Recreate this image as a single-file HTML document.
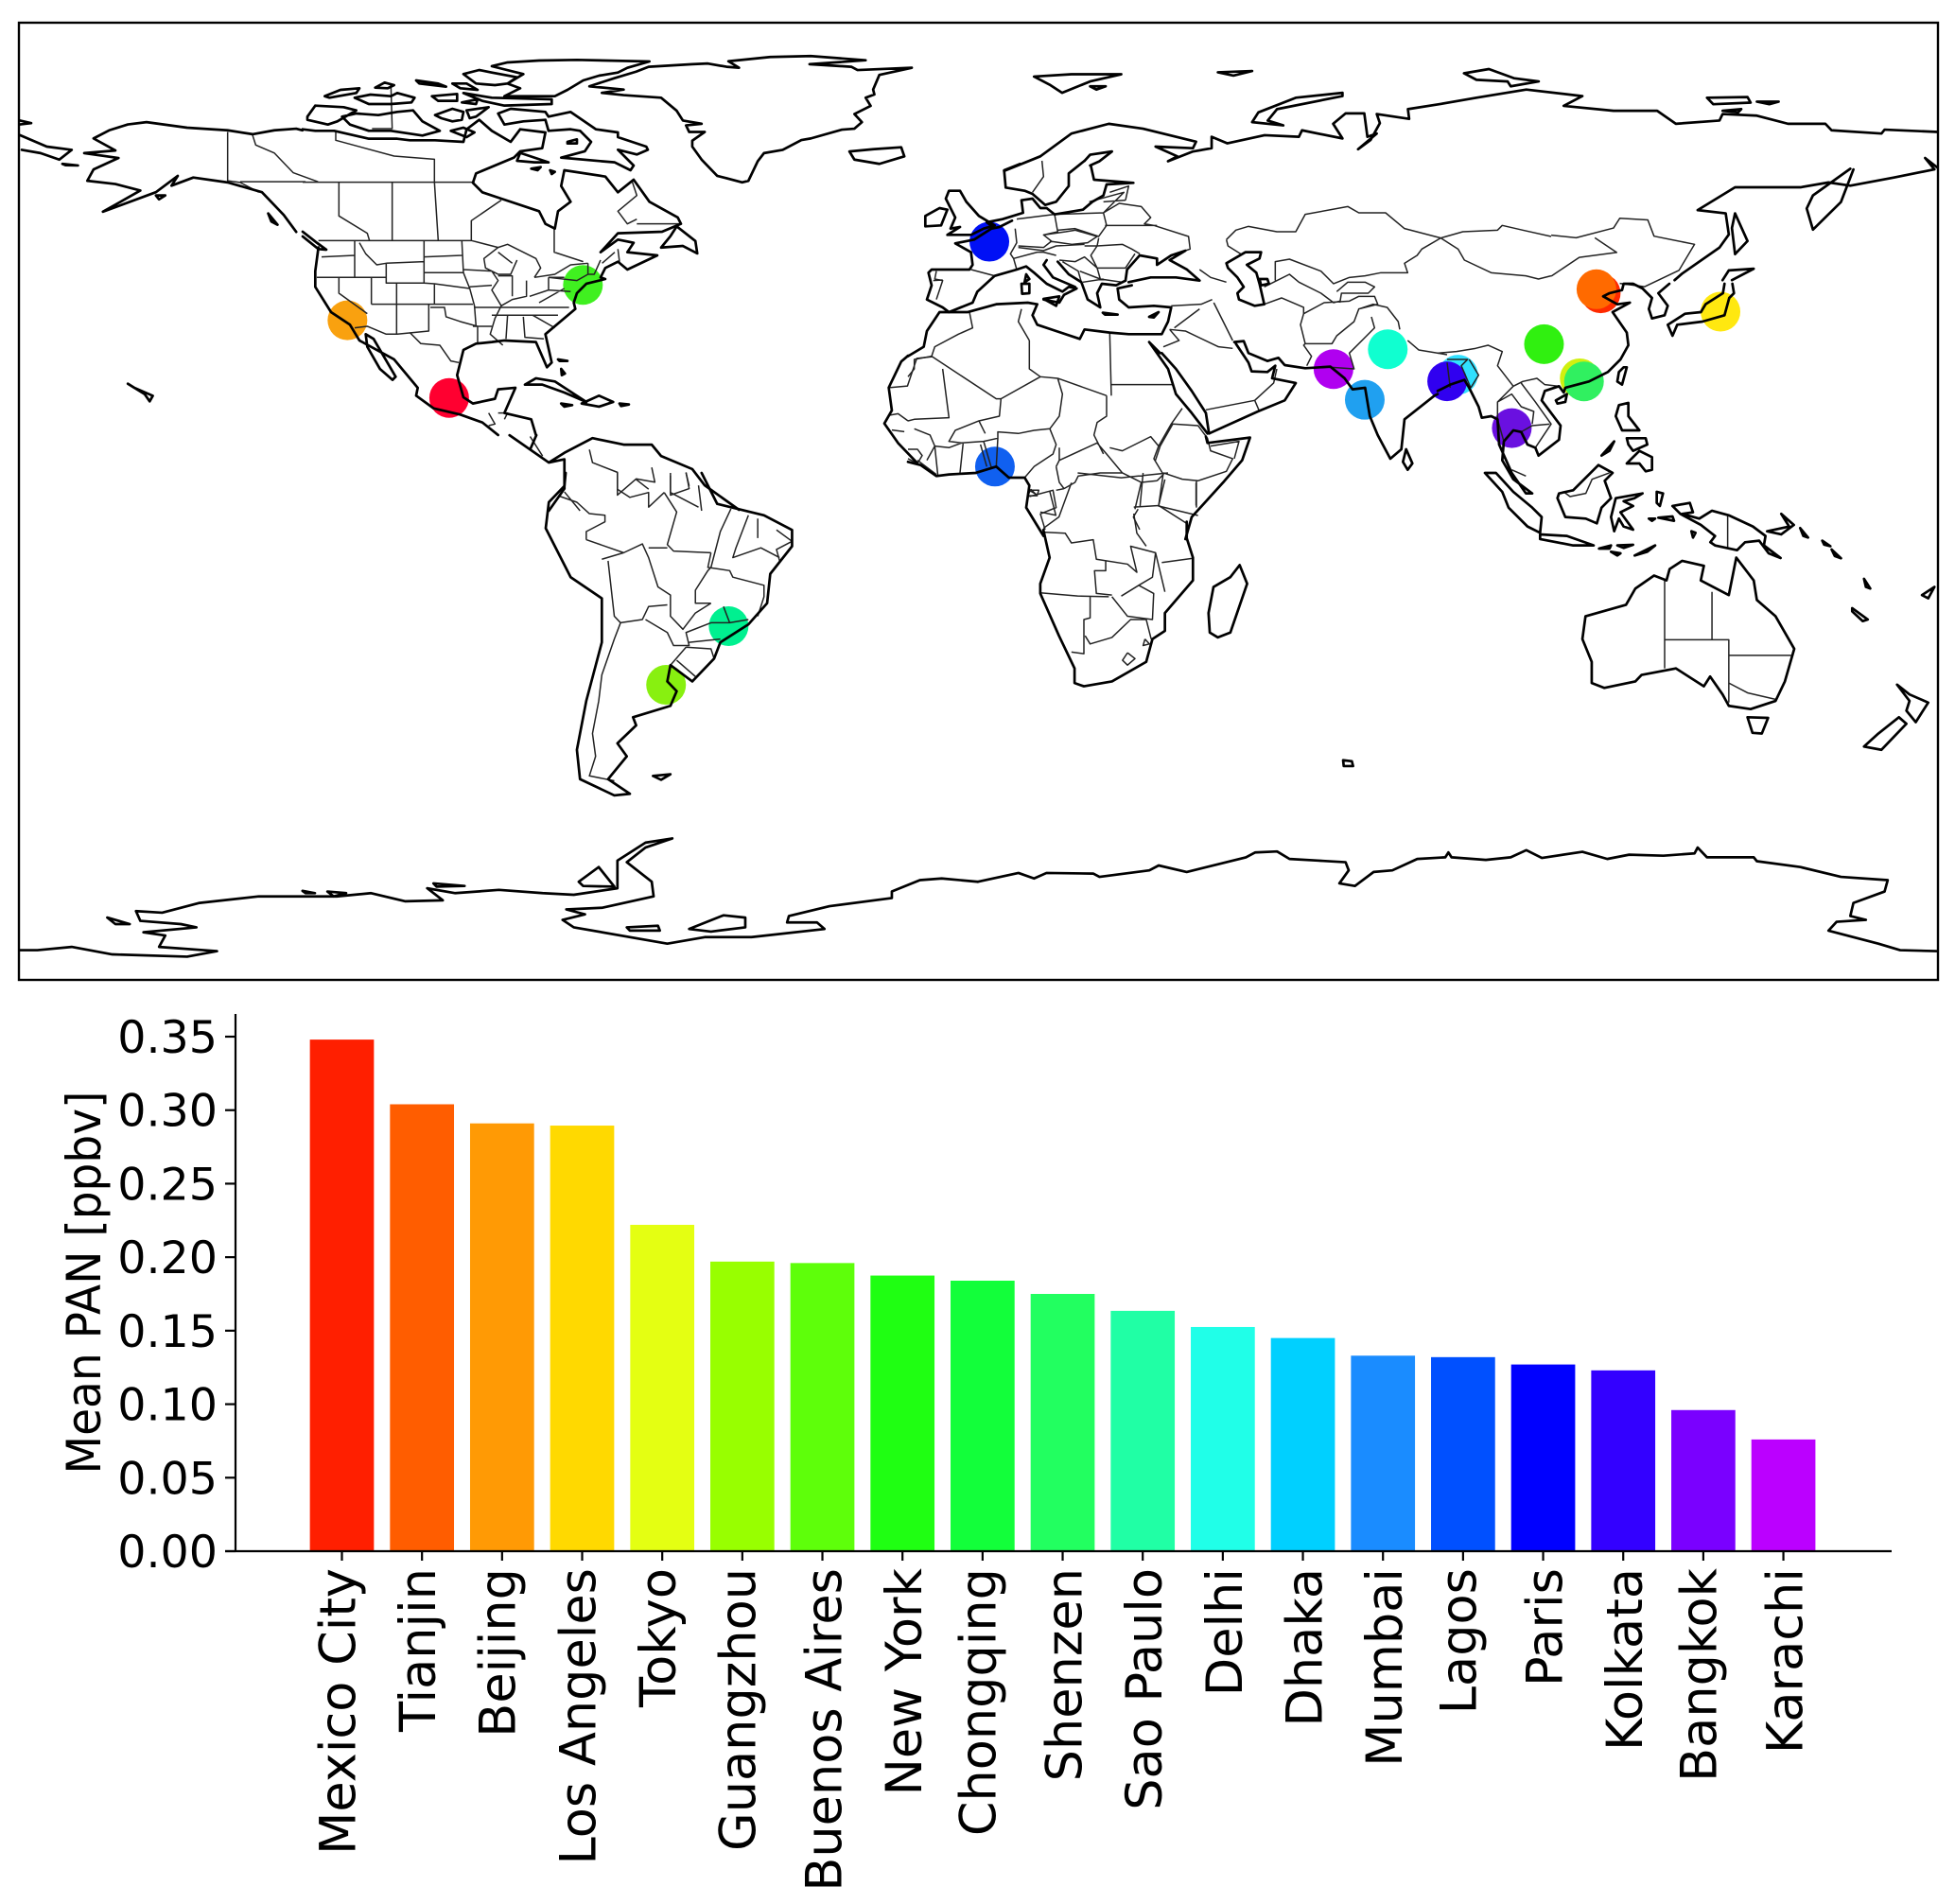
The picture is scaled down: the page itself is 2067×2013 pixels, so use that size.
<!DOCTYPE html>
<html lang="en">
<head>
<meta charset="utf-8">
<title>Mean PAN by megacity</title>
<style>
html,body{margin:0;padding:0;background:#fff}
svg{display:block}
text{font-family:"DejaVu Sans","Liberation Sans",sans-serif;fill:#000}
.c path{fill:none;stroke:#000;stroke-width:2.7;stroke-linejoin:round;stroke-linecap:round;vector-effect:non-scaling-stroke}
.b path{fill:none;stroke:#222;stroke-width:1.5;stroke-linejoin:round;vector-effect:non-scaling-stroke}
</style>
</head>
<body>
<svg id="fig" xmlns="http://www.w3.org/2000/svg" width="2067" height="2013" viewBox="0 0 2067 2013">
<rect width="2067" height="2013" fill="#fff"/>
<g id="markers"></g>

<g class="b">
<g transform="translate(0,0) scale(.6594,.3444)">
<path d="M365,405L365,555 385,560 415,590M405,415L410,445 440,470 470,530 510,558M385,558L490,558M850,1340L870,1400M945,1380L950,1420 990,1450 990,1520 1020,1470 1050,1480 1045,1435M1075,1460L1075,1520 1105,1500 1100,1450M905,1510L930,1568M1120,1490L1125,1568"/>
<path d="M1425,1190L1455,1185 1470,1100 1495,1095M1456,1292L1440,1270 1425,1275M1430,1320L1450,1325"/>
</g>
<g transform="translate(320,60) scale(.3333)">
<path d="M105,240L105,265 290,315 418,325 418,398M0,398L545,398M115,400L115,505 205,560 212,583M284,398L284,583M418,398L430,583M630,455L535,520 535,583M798,545L798,620 890,650M280,90L284,228 220,228M1045,395L1060,440 1000,490 1030,530 1060,515M1060,530L1200,530"/>
<path d="M50,583L535,583 620,605 650,595 740,640 755,670 735,700M620,605L575,640 580,670 620,690 660,690 680,645M620,620L665,655M735,700L800,690 850,660 905,655M165,583L165,700M60,635L165,630M45,700L265,700M180,590L200,625 235,660 265,655M265,655L385,650M265,655L265,718 385,718 385,585M385,635L505,630M385,685L510,685M115,700L115,750 205,815M218,700L218,785M298,718L298,880M218,785L418,785M418,720L418,785 540,785M385,718L418,720 530,735M400,785L400,870 300,880 265,880 205,855 165,860M405,795L450,795 455,825 500,840 555,855 555,910M505,585L510,685 530,735 545,790 550,855M510,675L600,680M530,730L600,725M600,680L620,710 600,740 630,790 610,830 595,880 635,915M620,695L665,695 665,760M710,710L710,760 665,770 630,790M545,795L845,795M600,820L810,820M650,820L645,895M700,825L705,890 765,895M780,700L780,740 720,760M780,700L830,700M750,780L830,735M780,740L850,745M540,855L600,855M730,820L800,860M905,655L905,690 925,690 945,645M905,690L870,710 780,700M950,655L990,620M1000,610L1005,650"/>
<path d="M340,875L375,910 435,915 470,965 495,970M590,1130L610,1165 590,1170M620,1130L650,1130 640,1150"/>
</g>
<g transform="translate(960,170) scale(.3333)">
<path d="M340,215L345,260 325,295 335,310 345,345M200,345L275,365M345,185L465,170 475,225 430,235 455,255 430,275 350,270M465,170L620,165 630,205 605,240 530,215 475,220M575,130L685,100 620,165M620,165L670,135 740,145 770,180 750,200 780,205 890,240 895,280 880,285M625,205L790,205M605,245L600,270 680,265 710,280 735,295M430,235L500,225 530,220 600,240 570,260 520,265 450,255M350,275L430,285 470,270 560,265M335,310L410,290 430,290 470,300M560,270L600,270 580,300 600,340 690,340 720,295M600,340L610,375 680,385M480,315L530,320 560,305 600,340M490,320L540,350 550,385M545,350L610,375M555,385L620,375M425,0L430,50 395,100M640,100L700,80 690,125M620,130L690,125M90,350L85,375 110,380 90,440M80,380L110,378"/>
<path d="M925,345L960,370 1010,385M835,460L930,455 965,440M970,450L1000,510 1030,570M830,535L880,540 985,590 1030,595M845,530L925,470M810,590L860,570 830,535M945,790L1100,760 1160,705 1170,660M1100,760L1115,795"/>
<path d="M195,480L205,530 160,550 85,590 75,620M75,620L20,630 20,660 0,685M75,620L280,755 295,755 420,685M420,685L475,690M360,470L350,510 385,570M385,570L385,660 420,685M640,545L645,745M475,690L630,745M630,745L630,810 600,830 590,870 620,930M645,710L840,710M475,690L490,740 480,810 450,850M295,755L290,810 225,825 245,865M110,660L130,815 20,820 0,825M450,850L400,855 350,865 285,860 285,880 280,970M230,900L250,970M240,890L265,975M225,825L150,855 130,890 170,895 240,890 285,880M175,895L165,990M85,905L95,1000M85,905L130,910 170,895M20,850L70,870 85,905 60,950M30,950L90,995M0,915L30,915 45,935 30,960 0,945M450,850L470,900 460,930 400,970 370,1005M480,910L480,950 470,970M480,950L600,895 630,930 680,990M470,970L480,1020 495,1040M495,1040L530,1020 540,1000 610,990 680,990 740,1020 790,1015M640,910L680,920 770,875 795,905 780,945 810,995 790,1015M795,905L835,835 870,785M785,950L800,905 840,835 920,840 950,880 960,920 1030,945 1010,985 920,1015 870,1010 810,990M960,905L1050,890 1035,945M915,1015L915,1100M810,990L795,1095 920,1125M740,1020L720,1105M730,1105L715,1130 735,1170M385,1045L410,1060 415,1045 380,1045M385,1065L460,1045 470,1100 420,1120 435,1170M495,1040L470,1045"/>
</g>
<g transform="translate(1240,200) scale(.3333)">
<path d="M170,160L200,130 240,118 330,135 390,135 420,80 555,55 590,75 675,75 735,125 850,155 920,135 1030,130 1045,115 1110,130 1200,150M850,155L905,190 925,225 1010,265 1120,275 1160,285 1200,275M170,160L175,180 215,205M325,290L325,230 370,222 470,260 510,300 560,280 610,275 660,265 745,265 735,235 775,210 790,190 850,155M290,310L370,270 400,295 470,330 510,360 530,355M520,325L555,295 610,295 640,310 620,330 535,330 530,360M290,365L345,345 415,375 415,395M415,395L405,430 420,490 415,495 440,530 425,560M415,395L480,360 560,355 590,340 640,340 650,365 590,380 575,420 520,465 505,490 420,490M590,380L635,365 680,375 715,420 720,445M630,405L640,440 600,480 560,520 575,570 505,565M745,480L780,510 870,525"/>
</g>
<g transform="translate(1034,0) scale(.6588,.3444)">
<path d="M920,722L960,730 1020,700 1030,670 1075,675 1085,725 1150,750 1125,830 1070,880 1030,870M920,848L965,790 1025,775 990,730"/>
</g>
<g transform="translate(1520,300) scale(.3333)">
<path d="M0,220L60,215 120,205 160,195 205,215 190,260 240,325 270,310 315,300 340,320 385,325M30,240L95,240 75,260 105,330M30,250L40,330M100,240L130,290 105,330M240,325L190,375 190,430 210,500M190,375L235,350 265,390 305,405 300,445M265,315L310,375 360,445 330,490 310,520M265,470L300,450 355,445M235,590L280,610M400,660L420,675 470,665 490,620 545,600M920,735L920,840"/>
</g>
<g transform="translate(0,500) scale(.6594,.3444)">
<path d="M895,70L925,90 945,125 970,130 970,150 940,180 940,205M990,0L990,50 1010,75 1040,60 1040,105 1065,60M1020,20L1040,50M1075,0L1075,60 1120,105M1100,0L1105,40M1065,60L1085,120 1070,220 1080,240 1140,245M1172,110L1155,180 1140,290 1135,300 1115,360 1115,400 1140,400M1200,130L1180,230 1175,260 1220,230 1250,260M1215,140L1215,200M1245,175L1270,210 1245,235 1250,270M1140,245L1135,290 1170,300 1175,320 1225,345 1225,380 1215,440M1040,230L1070,230M940,205L1000,245 1030,218 1040,260 1055,350 1075,375 1075,440 1095,480 1115,430 1140,400M965,265L1000,245M975,270L985,440 995,460 1030,450 1040,410 1070,405M1035,450L1070,490 1080,530 1105,530 1100,490 1140,460 1170,460M1105,520L1155,510M1100,535L1140,540 1145,570M1075,590L1100,535M995,460L985,510 965,620 960,700 950,800 955,870 945,930 985,945M1160,410L1170,460 1200,450M1085,575L1115,625"/>
</g>
<g transform="translate(1034,500) scale(.6588,.3444)">
<path d="M105,182L140,185 150,215 185,205 190,265 240,280 255,305 245,225 285,245M205,270L205,300 187,300 190,370 215,375M100,368L160,378 210,380M180,380L180,445 170,450 170,555 150,550M172,500L180,525 215,505 245,450 270,450 278,510M215,380L240,440 280,450 282,370 258,345 230,378M258,345L280,320 285,245 300,365M295,275L345,262M250,105L290,100 335,155M290,100L300,20M250,125L255,185 270,225M350,30L350,100M260,105L265,0M150,30L130,135 105,170M85,50L95,70 80,70 85,50M115,55L125,130 100,120M240,552L252,570 240,590 232,575 240,552M268,510L275,525 265,530 268,510M160,0L230,15 305,0"/>
<path d="M1102,330L1102,600M1178,365L1178,512M1102,512L1205,512 1205,705M1205,560L1305,560M1205,645L1235,675 1280,695"/>
</g>
</g>

<g class="c">
<g transform="translate(0,0) scale(.6594,.3444)">
<path d="M1040,205L1110,197 1135,195 1165,205 1185,208 1168,188 1235,175 1300,172 1388,185 1298,197 1365,205 1375,215 1462,208 1410,230 1400,275 1402,290 1388,300 1396,325 1370,350 1382,375 1370,395 1350,398 1300,425 1285,430 1255,460 1225,470 1215,495 1200,555 1190,560 1165,547 1150,540 1125,490 1110,450 1110,432 1130,405 1105,405 1100,385 1125,380 1095,370 1085,340 1060,300 1000,292 965,285 1000,275 945,265 985,240 1020,220Z"/>
<path d="M32,415L75,450 115,460 95,490 65,470 35,460M32,370L50,378 32,382M100,503L125,508 105,507Z"/>
<path d="M485,400L475,395 440,400 405,412 365,400 300,392 235,375 205,382 175,400 150,425 185,462 135,470 190,485 150,520 140,555 185,565 225,585 165,650 250,590 285,540 275,570 310,545 365,560 420,590 455,660 475,712"/>
<path d="M860,1336L850,1380 880,1420 905,1390 950,1345 1000,1365 1045,1365 1060,1400 1110,1440 1130,1490 1185,1565M817,1336L880,1420 905,1410 905,1500 880,1568"/>
<path d="M1085,695L1115,740 1118,778 1095,755 1060,760 1075,725ZM430,655L445,690 435,680ZM250,600L265,600 255,612ZM205,1178L215,1190 245,1215 240,1232 232,1210ZM1362,465L1400,458 1445,452 1450,480 1410,503 1370,490Z"/>
<path d="M1456,1092L1445,1110 1425,1190 1430,1260 1418,1300 1440,1360 1470,1420"/>
</g>
<g transform="translate(320,60) scale(.3333)">
<path d="M1100,15L1030,35 1000,50 940,60 890,75 840,105 800,125 640,125 690,100 650,85 700,55 600,30 650,18 750,12 870,10ZM510,55L560,42 600,50 680,65 650,85 610,90 550,85ZM360,75L430,85 455,95 370,85ZM475,85L520,85 555,105 500,100ZM230,98L260,82 290,90 270,100ZM70,125L120,105 180,100 170,115 85,130ZM165,130L215,120 280,125 300,115 355,130 345,145 280,150 210,150ZM410,125L490,118 490,140 430,140ZM505,145L555,135 550,150ZM510,115L600,130 790,135 790,150 640,155 570,140ZM15,190L40,155 130,160 170,170 110,205 80,215 15,200ZM125,190L170,180 240,185 300,175 350,170 380,205 435,235 380,250 280,235 210,235 150,215ZM420,185L475,165 510,175 505,200 475,205 440,195ZM470,235L510,225 545,240 520,255ZM520,170L590,160 550,190 530,195ZM620,180L660,165 770,175 780,190 850,175 930,230 1000,240 1000,255 1090,285 1095,295 1060,310 1000,295 1050,345 1040,360 990,335 820,320 895,300 915,270 880,235 850,230 780,235 770,200 700,205 640,215ZM690,305L780,335 735,335 680,330ZM725,355L755,350 745,360ZM785,360L800,365 790,372ZM840,270L870,262 870,275 840,275Z"/>
<path d="M0,230L40,235 100,235 210,260 300,260 340,265 420,265 510,270 520,230 560,200 600,235 660,270 690,230 770,240 760,290 690,300 670,320 550,370 540,400 570,430 630,450 750,490 770,530 800,545 810,490 850,460 820,410 830,360 960,380 1000,430 1050,390 1100,460 1190,510 1200,530 1140,555 1000,560 945,620 1000,580 1050,590 1030,620 1125,630 1030,675 1000,650 960,670 945,700 960,705 900,720 870,750 860,780 865,800 770,880 790,970 775,985 740,905 640,900 600,905 550,910 510,930 490,1010 510,1080 540,1100 610,1085 620,1055 675,1050 640,1130 725,1150 740,1200"/>
<path d="M50,605L40,680 40,730 90,810 150,850 180,900 290,960 365,1050 360,1075 415,1115 500,1135 570,1160 620,1200M200,880L225,895 295,1015 285,1025 245,990 205,920ZM0,555L45,590 75,612 50,610 0,570"/>
<path d="M705,1040L740,1020 800,1030 900,1095 830,1065 760,1040ZM885,1100L940,1075 985,1095 940,1110ZM820,1100L855,1105 830,1110ZM1005,1100L1035,1103 1010,1108ZM810,960L840,965 815,965ZM820,990L832,1005 822,1010Z"/>
</g>
<g transform="translate(1034,0) scale(.6588,.3444)">
<path d="M42,525L100,480 150,410 210,380 265,395 350,435 345,455 285,450 320,480 305,495 345,465 375,455 375,420 400,440 460,415 515,420 520,400 585,425 570,380 590,348 620,348 625,420 640,410 610,458 630,430 645,378 640,350 692,365 690,335 740,320 800,300 880,275 970,295 940,325 1020,340 1090,340 1120,380 1190,370 1195,350 1250,355 1300,380 1360,380 1370,400 1450,410 1455,398 1540,405"/>
<path d="M171,494L180,475 215,465 195,495 180,508"/>
<path d="M1540,515L1520,485 1535,520 1470,545 1400,570 1365,560 1320,575 1215,575 1155,645 1200,655 1205,720 1190,760 1130,840 1118,860"/>
<path d="M1400,518L1340,600 1330,640 1340,705 1385,620 1405,520M1215,655L1235,740 1215,780 1210,700Z"/>
<path d="M90,235L150,228 230,228 180,250 135,285 115,260ZM180,265L205,265 190,275ZM385,222L440,218 410,232ZM585,285L510,300 450,345 440,375 490,385 465,370 480,335 585,295ZM780,225L820,212 860,240 900,250 855,265 850,250 800,245ZM1170,300L1235,298 1240,315 1180,320ZM1250,312L1285,312 1270,320ZM1195,340L1225,335 1220,345Z"/>
<path d="M1195,860L1205,830 1245,825 1210,860"/>
</g>
<g transform="translate(960,170) scale(.3333)">
<path d="M355,10L305,30 310,85 370,95 395,105 435,140 470,130 510,80 510,40 560,0M580,15L590,60 715,70 630,75 620,110 585,130 555,155 465,170 440,150 420,150 395,120 360,125 365,165 300,185 250,195 270,210"/>
<path d="M120,120L130,95 165,95 185,130 225,175 250,190 275,205 240,215 200,235 125,235 165,210 135,215 150,180 140,160ZM55,175L100,150 125,155 105,205 55,208Z"/>
<path d="M330,190L290,210 265,215 210,250 150,262 200,290 205,330 195,345 75,345 65,355 75,395 60,440 110,465 130,480 205,450 220,415 275,365 345,345 375,335 400,355 440,390 490,415 510,400 535,405 495,425 480,450 430,440"/>
<path d="M440,315L430,330 460,370 530,400M475,320L510,360 550,385 570,440 610,465 600,420 615,390 660,395 690,380"/>
<path d="M690,380L695,345 735,300 790,310 790,330 835,300 880,285 830,315 885,345 925,380 850,370 770,370 700,385"/>
<path d="M710,395L665,405 670,440 700,465 780,460 835,465 825,510 805,550 700,550 640,545 560,535 545,565 470,540 410,520 395,490 410,455 380,450 280,455 190,480 130,480 100,480 60,540 50,590 0,620"/>
<path d="M375,360L385,375 370,385ZM360,390L385,390 385,420 362,422ZM430,438L480,430 470,460ZM618,482L665,488 625,488ZM765,495L795,480 780,497Z"/>
<path d="M765,575L825,660 850,740 900,800 950,865M800,610L765,575M805,610L850,660 900,730 945,800 955,865"/>
<path d="M945,875L950,895 1085,878 1060,950 1000,1020 900,1130 880,1200"/>
<path d="M0,955L40,965 90,1000 130,995 215,990 280,970 320,1005 370,1005 385,1030 375,1100 430,1190"/>
</g>
<g transform="translate(1240,200) scale(.3333)">
<path d="M170,235L230,200 280,200 275,220 235,240 265,265 275,300 290,365 260,370 210,350 205,330 225,310 205,280 175,250ZM275,285L300,285 305,300 280,305Z"/>
<path d="M115,775L270,705 355,670 390,615 315,600 325,560 300,580 250,578 240,550 200,490"/>
<path d="M195,485L225,482 240,520 300,545 335,535 355,558 420,568 500,563 545,600 570,635 610,630 625,720 650,780 690,855 725,825 735,730 830,655 840,650"/>
<path d="M740,825L760,870 745,890 730,865Z"/>
</g>
<g transform="translate(1520,300) scale(.3333)">
<path d="M735,0L700,30 730,70 720,100 680,110 670,80 680,45 650,15 620,0 590,0 585,20 545,30 525,40 570,65 610,60 555,90 600,155 605,195 580,240 540,280 480,310 405,330 400,345 385,325 340,340 330,370 390,450 385,495 320,545 310,520 285,510 265,470 240,465 210,500 205,560 240,620 300,665 280,665 235,600 195,510 190,430 170,420 140,425 130,390 100,330 85,305 40,320 0,340"/>
<path d="M910,0L905,30 850,65 835,90 785,95 730,130 745,165 760,130 840,120 910,100 925,45 940,30 935,0"/>
<path d="M590,265L600,265 585,320 570,310 575,280ZM375,370L410,350 405,375 380,380ZM575,385L605,378 605,420 640,465 585,465 565,420ZM600,490L660,490 665,510 620,530 605,510ZM600,570L640,530 680,550 680,590 660,595 640,570ZM520,545L560,500 545,530ZM150,600L185,600 240,660 300,710 330,740 325,790 285,770 225,710 205,660ZM325,795L410,800 495,830 430,830 325,810ZM385,665L430,655 460,625 510,575 555,600 530,625 550,680 520,710 505,760 470,745 405,740 380,680ZM565,680L650,665 625,680 590,690 620,705 580,725 620,780 590,770 575,745 560,785 550,740ZM695,660L715,665 705,705 695,695ZM700,742L745,738 750,752ZM670,745L690,745 680,752ZM625,862L690,830 665,850ZM512,840L550,830 545,840ZM570,830L620,828 590,838ZM550,850L580,855 570,862ZM745,705L800,695 810,725 775,730 830,745 870,720 925,735 1000,770 1040,800 1035,830 1088,870 1050,855 1020,815 975,820 950,845 880,830 865,820 880,800 835,765 770,730ZM805,785L818,790 810,805ZM1045,785L1115,770 1090,730 1130,765 1090,795ZM1150,775L1175,805 1160,800Z"/>
</g>
<g transform="translate(0,500) scale(.6594,.3444)">
<path d="M907,0L905,40 880,90 875,170 915,320 965,385 965,520 940,700 925,850 930,940 985,990 1010,985 975,940 1005,870 990,830 1020,775 1015,750 1075,715 1085,670 1070,640 1075,590 1110,640 1145,570 1155,520 1200,465 1230,400 1235,310 1270,225 1270,175 1225,130 1150,95 1125,0"/>
<path d="M1047,930L1075,925 1060,942Z"/>
<path d="M32,1465L60,1465 115,1455 180,1478 300,1485 348,1468 255,1455 265,1420 230,1410 315,1395 290,1385 225,1375 218,1345 260,1350 320,1320 415,1300 540,1300 595,1290 650,1315 710,1312 685,1275 730,1290 800,1280 870,1290 920,1295 990,1275 990,1190 1035,1135 1078,1122 1035,1150 1005,1195 1045,1255 1048,1300 965,1335 908,1340 938,1355 902,1372 920,1395 1070,1445 1130,1425 1205,1425 1322,1400 1310,1380 1262,1380 1265,1360 1330,1330 1430,1305 1430,1285 1475,1250 1510,1245 1568,1255"/>
<path d="M172,1365L208,1385 185,1385ZM1105,1400L1160,1358 1195,1365 1195,1395 1140,1408ZM1005,1395L1055,1390 1058,1405 1010,1405ZM928,1255L960,1210 985,1270 935,1268ZM695,1260L745,1268 700,1270ZM485,1283L505,1290 490,1290ZM525,1285L555,1290 535,1300Z"/>
</g>
<g transform="translate(1034,500) scale(.6588,.3444)">
<path d="M105,175L115,260 100,340 100,370 130,500 155,600 155,645 170,655 215,640 270,580 280,510 300,485 300,430 345,330 345,260 335,200 335,150"/>
<path d="M420,283L432,340 405,490 385,505 372,490 370,430 378,350 405,320Z"/>
<path d="M1130,270L1165,285 1160,330 1205,375 1217,260 1245,330 1250,390 1280,440 1310,540 1295,640 1280,700 1240,725 1205,715 1195,680 1175,625 1165,655 1120,600 1065,620 1055,640 1005,660 985,645 985,580 970,510 975,440 1040,405 1055,355 1085,315 1105,330 1110,295Z"/>
<path d="M1235,750L1268,752 1258,800 1243,798ZM1478,750L1445,800 1422,840 1450,850 1490,770ZM1475,650L1495,680 1525,705 1505,765 1490,730 1495,700ZM1403,415L1428,450 1420,455 1403,425ZM1422,325L1432,355 1425,350ZM1515,375L1535,350 1525,385ZM1355,208L1368,225 1358,220ZM1370,235L1385,262 1375,255ZM586,882L600,885 602,900 587,900Z"/>
<path d="M0,1255L65,1228 90,1245 110,1228 185,1230 195,1240 275,1220 290,1205 335,1225 430,1180 445,1165 480,1162 500,1185 545,1190 590,1195 595,1220 580,1260 605,1268 635,1225 665,1220 705,1185 750,1180 755,1165 760,1180 815,1188 855,1180 880,1158 905,1182 970,1163 1010,1185 1045,1172 1100,1175 1150,1168 1155,1150 1170,1180 1245,1180 1250,1192 1320,1210 1385,1240 1460,1250 1455,1285 1405,1320 1400,1360 1425,1372 1378,1378 1365,1405 1445,1445 1480,1465 1538,1468"/>
</g>
</g>

<rect x="20" y="24" width="2029" height="1012" fill="none" stroke="#000" stroke-width="2.4"/>
<g id="bar-chart"></g>
</svg>

<script>
const cities = ["Mexico City","Tianjin","Beijing","Los Angeles","Tokyo","Guangzhou","Buenos Aires","New York","Chongqing","Shenzen","Sao Paulo","Delhi","Dhaka","Mumbai","Lagos","Paris","Kolkata","Bangkok","Karachi"];
const meanPan = [0.348,0.304,0.291,0.2895,0.222,0.197,0.196,0.1875,0.184,0.175,0.1635,0.1525,0.145,0.133,0.132,0.127,0.123,0.096,0.076];
const yTickValues = [0,0.05,0.10,0.15,0.20,0.25,0.30,0.35];
const longitudes = [-99.13,117.2,116.4,-118.24,139.7,113.26,-58.38,-74,106.55,114.06,-46.63,77.2,90.4,72.88,3.4,2.35,88.36,100.5,67];
const latitudes = [19.43,39.13,39.9,34.05,35.68,23.13,-34.6,40.71,29.56,22.54,-23.55,28.6,23.8,19.08,6.5,48.85,22.57,13.75,24.86];
const barColors = ["#ff1f00","#ff5d00","#ff9a05","#ffd900","#e4ff12","#98ff00","#5eff0a","#1fff12","#12ff3a","#22ff60","#20ffa5","#20ffe8","#00d0ff","#1a8cff","#0050ff","#0000ff","#3300ff","#7a00ff","#bb00ff"];
const markerColors = ["#ff0030","#ff2a00","#ff6a00","#f9a10f","#ffe810","#d0f010","#88f010","#40f020","#30f010","#30f060","#00f090","#10ffd0","#30e0ff","#20a0f0","#1060f0","#0010f5","#3000f0","#6a10e0","#b000f0"];

const svgNS = "http://www.w3.org/2000/svg";
function mk(tag, attrs, parent){
  const e = document.createElementNS(svgNS, tag);
  for (const k in attrs) e.setAttribute(k, attrs[k]);
  parent.appendChild(e);
  return e;
}
const lonX = lon => 1032.8 + lon * 5.628;
const latY = lat => 529.8 - lat * 5.614;
const barX = i => 361.5 + i * 84.67;
const valY = v => 1640 - v * (1640 - 1096) / 0.35;

const markersG = document.getElementById("markers");
cities.forEach((name, i) => {
  const c = mk("circle", {cx: lonX(longitudes[i]), cy: latY(latitudes[i]), r: 21, fill: markerColors[i]}, markersG);
  
  
});

const chart = document.getElementById("bar-chart");
const barWidth = 67.7;
cities.forEach((name, i) => {
  const r = mk("rect", {x: barX(i) - barWidth / 2, y: valY(meanPan[i]), width: barWidth, height: valY(0) - valY(meanPan[i]), fill: barColors[i]}, chart);
  
  
  const t = mk("line", {x1: barX(i), x2: barX(i), y1: 1640, y2: 1650, stroke: "#000", "stroke-width": 2.2}, chart);
  
  
  const fs = 52.5;
  const base = /[gjpqy]/.test(name) ? barX(i) + 0.262 * fs : barX(i) + 0.38 * fs;
  const l = mk("text", {transform: "translate(" + base + ",1658) rotate(-90)", "text-anchor": "end", "font-size": fs}, chart);
  l.textContent = name;
  
  
});

yTickValues.forEach(v => {
  const t = mk("line", {x1: 238, x2: 249, y1: valY(v), y2: valY(v), stroke: "#000", "stroke-width": 2.2}, chart);
  
  
  const l = mk("text", {x: 230, y: valY(v) + 17, "text-anchor": "end", "font-size": 47.5}, chart);
  l.textContent = v.toFixed(2);
  
  
});

const ax = mk("line", {x1: 249, x2: 249, y1: 1072, y2: 1641, stroke: "#000", "stroke-width": 2.2}, chart);


const bx = mk("line", {x1: 238, x2: 2000, y1: 1640, y2: 1640, stroke: "#000", "stroke-width": 2.2}, chart);


const yl = mk("text", {transform: "translate(106,1356) rotate(-90)", "text-anchor": "middle", "font-size": 50, textLength: 405, lengthAdjust: "spacingAndGlyphs"}, chart);
yl.textContent = "Mean PAN [ppbv]";


</script>
</body>
</html>
